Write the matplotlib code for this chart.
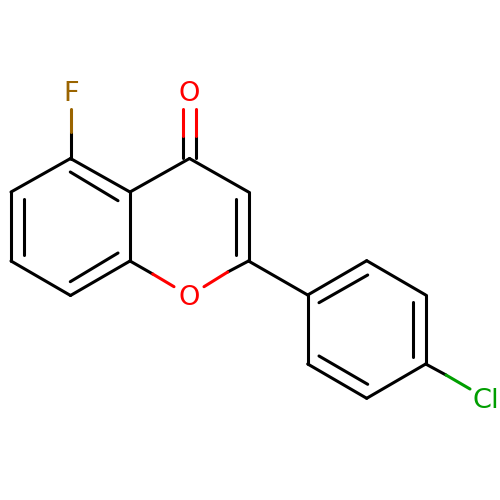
import matplotlib
matplotlib.use('Agg')
import matplotlib.pyplot as plt

BLACK = '#000000'
RED = '#ff0000'
BROWN = '#9a6400'
GREEN = '#009e00'

# ring atoms, pixel positions
atoms = {
    'c5': (70.5, 158.5), 'c6': (11, 192), 'c7': (11, 261), 'c8': (70.5, 295.5),
    'c8a': (130, 261), 'c4a': (130, 192), 'c4': (189.5, 158.5), 'c3': (248.5, 192),
    'c2': (248.5, 261), 'c1p': (307.7, 295), 'c2p': (366.7, 260.7), 'c3p': (425.7, 295),
    'c4p': (425.7, 364), 'c5p': (366.7, 398.3), 'c6p': (307.7, 364),
}

# plain carbon-carbon bonds
bonds = [
    ('c5', 'c6'), ('c6', 'c7'), ('c7', 'c8'), ('c8', 'c8a'), ('c8a', 'c4a'), ('c4a', 'c5'),
    ('c4a', 'c4'), ('c4', 'c3'), ('c3', 'c2'), ('c2', 'c1p'),
    ('c1p', 'c2p'), ('c2p', 'c3p'), ('c3p', 'c4p'), ('c4p', 'c5p'), ('c5p', 'c6p'), ('c6p', 'c1p'),
]

# inner lines of the double bonds
inner_bonds = [
    ((70.3, 172), (118, 200.7)), ((23.7, 199), (23.7, 255)), ((70.3, 281.7), (118, 253)),
    ((236, 199), (236, 255)), ((319, 302.7), (367.7, 275)),
    ((413.3, 301.7), (413.3, 357.3)), ((319, 356), (367.7, 384.3)),
]

# bonds to hetero atoms: start, colour change, end, end colour
hetero_bonds = [
    ((70.5, 158.5), (70.5, 132), (70.5, 109), BROWN),
    ((183.2, 158), (183.2, 136), (183.2, 109), RED),
    ((195.5, 158), (195.5, 136), (195.5, 109), RED),
    ((130, 261), (152.7, 274), (174, 286.7), RED),
    ((248.5, 261), (227.7, 272), (204, 286.7), RED),
    ((425.7, 364), (446, 375), (470, 389), GREEN),
]

labels = ['F', 'O', 'O', 'Cl']
label_x = [71.5, 189.5, 189.5, 473]
label_y = [100.7, 101, 305, 408]
label_ha = ['center', 'center', 'center', 'left']
label_colors = [BROWN, RED, RED, GREEN]

fig = plt.figure(figsize=(5, 5), dpi=100)
ax = fig.add_axes([0, 0, 1, 1])
ax.set_xlim(0, 500)
ax.set_ylim(500, 0)
ax.axis('off')

line_style = dict(lw=2.2, solid_capstyle='round')

for a, b in bonds:
    ax.plot([atoms[a][0], atoms[b][0]], [atoms[a][1], atoms[b][1]], color=BLACK, **line_style)

for p, q in inner_bonds:
    ax.plot([p[0], q[0]], [p[1], q[1]], color=BLACK, **line_style)

for start, mid, end, color in hetero_bonds:
    ax.plot([start[0], mid[0]], [start[1], mid[1]], color=BLACK, **line_style)
    ax.plot([mid[0], end[0]], [mid[1], end[1]], color=color, **line_style)

for s, x, y, ha, c in zip(labels, label_x, label_y, label_ha, label_colors):
    ax.text(x, y, s, color=c, fontsize=19.6, ha=ha, va='baseline', family='DejaVu Sans')

fig.savefig('out.png', dpi=100, facecolor='white')
